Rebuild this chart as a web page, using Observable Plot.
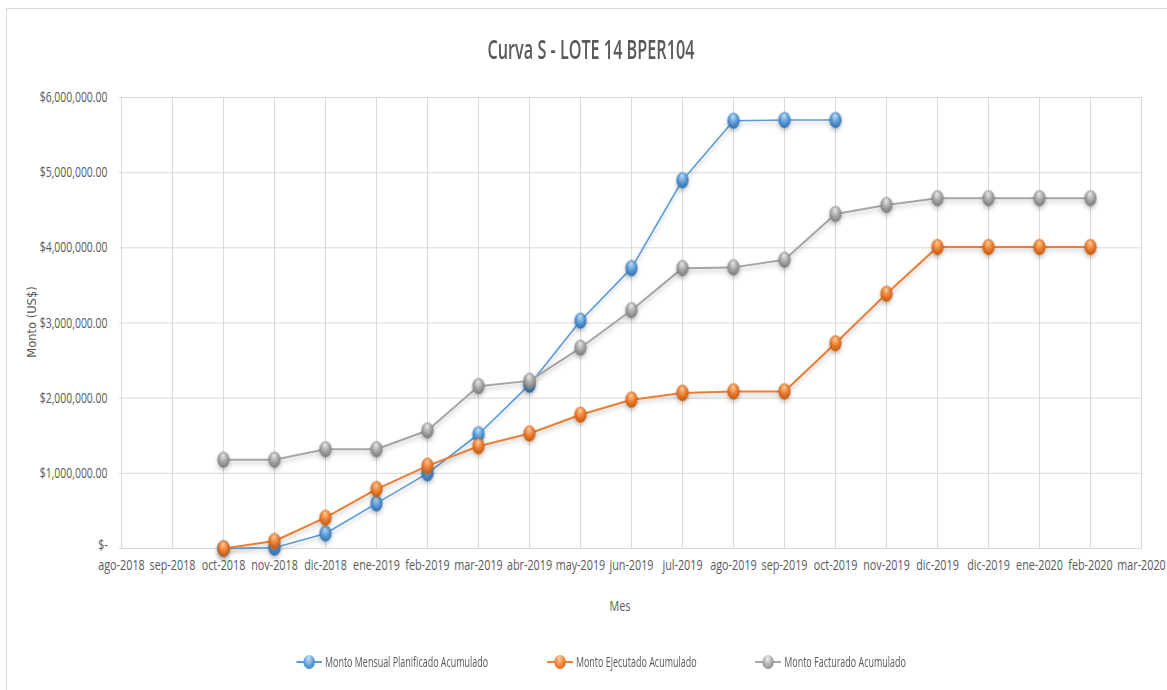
<!DOCTYPE html>
<html><head><meta charset="utf-8">
<script src="https://cdn.jsdelivr.net/npm/d3@7"></script>
<script src="https://cdn.jsdelivr.net/npm/@observablehq/plot@0.6"></script>
<style>
html,body{margin:0;padding:0;background:#fff;}
#wrap{position:relative;width:1167px;height:690px;overflow:hidden;background:#fff;}
#frame{position:absolute;left:6px;top:8px;width:1170px;height:700px;border:1px solid #d9d9d9;box-sizing:border-box;}
.txt{font-family:"Open Sans","Noto Sans",sans-serif;color:#595959;}
#title{position:absolute;left:0;width:1182px;top:30px;text-align:center;font-size:27px;font-weight:600;transform:scaleX(0.6);}
#ylab{position:absolute;left:32px;top:322px;transform:translate(-50%,-50%) rotate(-90deg);font-family:"DejaVu Sans",Verdana,sans-serif;font-size:11.5px;color:#595959;white-space:nowrap;}
#xlab{position:absolute;left:620px;top:605px;transform:translate(-50%,-50%) scaleX(0.72);font-size:15px;}
#legend{position:absolute;left:8px;width:1186px;top:652px;display:flex;justify-content:center;gap:92px;font-size:14px;transform:scaleX(0.64);}
.item{display:flex;align-items:center;gap:5px;}
.mk{position:relative;width:40px;height:14px;}
.mk .ln{position:absolute;left:0;right:0;top:6px;height:2px;}
.mk .bl{position:absolute;left:11px;top:0;width:18px;height:14px;border-radius:50%;}
svg{position:absolute;left:0;top:0;}
</style>
</head><body>
<div id="wrap">
  <div id="frame"></div>
  <div id="title" class="txt">Curva S - LOTE 14 BPER104</div>
  <div id="ylab">Monto (US$)</div>
  <div id="xlab" class="txt">Mes</div>
  <div id="legend" class="txt"></div>
</div>
<script>
// ---- data ----
const months = ["ago-2018","sep-2018","oct-2018","nov-2018","dic-2018","ene-2019","feb-2019","mar-2019","abr-2019","may-2019","jun-2019","jul-2019","ago-2019","sep-2019","oct-2019","nov-2019","dic-2019","dic-2019","ene-2020","feb-2020","mar-2020"];
const planificado = [null,null,0,10000,200000,600000,1000000,1520000,2180000,3030000,3730000,4900000,5690000,5700000,5700000,null,null,null,null,null,null];
const ejecutado   = [null,null,0,100000,410000,790000,1100000,1360000,1530000,1780000,1980000,2070000,2090000,2090000,2730000,3390000,4010000,4010000,4010000,4010000,null];
const facturado   = [null,null,1180000,1180000,1320000,1320000,1570000,2160000,2230000,2670000,3170000,3730000,3740000,3840000,4450000,4570000,4660000,4660000,4660000,4660000,null];
const seriesNames = ["Monto Mensual Planificado Acumulado","Monto Ejecutado Acumulado","Monto Facturado Acumulado"];
const yTicks = [0,1000000,2000000,3000000,4000000,5000000,6000000];

const colors = {line:["#5b9bd5","#ed7d31","#a5a5a5"], light:["#c4e2ff","#ffcf9c","#ececec"], dark:["#2a6aab","#bb560c","#767676"]};
const lineW = [1.6, 2, 2];
const ids = ["gBlue","gOrange","gGrey"];

const allSeries = [planificado, ejecutado, facturado];
const rows = allSeries.map((arr, s) => arr.map((v, i) => ({i, v, s: seriesNames[s]})).filter(d => d.v !== null));

const fmt = v => v === 0 ? "$-" : "$" + d3.format(",.2f")(v);
const idx = d3.range(months.length);

// vertical ellipse symbol (markers look taller than wide)
const ellipse = {draw(ctx, size) {
  const r = Math.sqrt(size / Math.PI), rx = r * 0.75, ry = r, k = 0.5523;
  ctx.moveTo(rx, 0);
  ctx.bezierCurveTo(rx, ry*k, rx*k, ry, 0, ry);
  ctx.bezierCurveTo(-rx*k, ry, -rx, ry*k, -rx, 0);
  ctx.bezierCurveTo(-rx, -ry*k, -rx*k, -ry, 0, -ry);
  ctx.bezierCurveTo(rx*k, -ry, rx, -ry*k, rx, 0);
  ctx.closePath();
}};

const marks = [
  Plot.gridY(yTicks, {stroke:"#d9d9d9", strokeOpacity:1, strokeWidth:1}),
  Plot.gridX(idx, {stroke:"#d9d9d9", strokeOpacity:1, strokeWidth:1}),
  Plot.axisY(yTicks, {tickSize:0, tickPadding:12, tickFormat: fmt, label:null, fill:"#595959", fontSize:14.5}),
  Plot.axisX(idx, {tickSize:0, tickPadding:11, tickFormat: i => months[i], label:null, fill:"#595959", fontSize:15})
];
rows.forEach((data, s) => {
  marks.push(Plot.line(data, {x:"i", y:"v", stroke: colors.line[s], strokeWidth: lineW[s]}));
  marks.push(Plot.dot(data, {x:"i", y:"v", r:7.8, symbol: ellipse, fill:`url(#${ids[s]})`, stroke: colors.dark[s], strokeWidth:0.4}));
});

const chart = Plot.plot({
  width:1167, height:690,
  marginTop:97, marginBottom:142, marginLeft:119, marginRight:25,
  style:{fontFamily:'"Open Sans","Noto Sans",sans-serif', fontSize:"15px", color:"#595959", background:"transparent", overflow:"visible"},
  x:{type:"point", domain: idx, padding:0},
  y:{domain:[0,6000000]},
  marks
});

const svg = d3.select(chart);
const defs = svg.insert("defs", ":first-child");
ids.forEach((id, s) => {
  const g = defs.append("radialGradient").attr("id", id).attr("cx","50%").attr("cy","42%").attr("r","62%").attr("fx","45%").attr("fy","20%");
  g.append("stop").attr("offset","0%").attr("stop-color", colors.light[s]);
  g.append("stop").attr("offset","55%").attr("stop-color", colors.line[s]);
  g.append("stop").attr("offset","100%").attr("stop-color", colors.dark[s]);
});
const f = defs.append("filter").attr("id","shadow").attr("x","-20%").attr("y","-20%").attr("width","140%").attr("height","160%");
f.append("feDropShadow").attr("dx",0).attr("dy",3).attr("stdDeviation",2).attr("flood-color","#000").attr("flood-opacity",0.22);
svg.selectAll('g[aria-label="line"], g[aria-label="dot"]').attr("filter","url(#shadow)");

// condense tick labels horizontally (narrow Calibri-like look)
svg.selectAll('g[aria-label="x-axis tick label"] text, g[aria-label="y-axis tick label"] text').each(function() {
  const t = d3.select(this);
  const lift = t.text() === "$-" ? -3 : 0;
  const tr = t.attr("transform");
  if (tr) t.attr("transform", tr + ` translate(0,${lift}) scale(0.72,1)`);
  else {
    const x = +t.attr("x") || 0, y = +t.attr("y") || 0;
    t.attr("x", null).attr("y", null).attr("transform", `translate(${x},${y + lift}) scale(0.72,1)`);
  }
});

document.getElementById("wrap").appendChild(chart);

// legend
const leg = document.getElementById("legend");
seriesNames.forEach((name, s) => {
  const it = document.createElement("div"); it.className = "item";
  it.innerHTML = `<span class="mk"><span class="ln" style="background:${colors.line[s]}"></span><span class="bl" style="background:radial-gradient(ellipse at 45% 25%, ${colors.light[s]} 0%, ${colors.line[s]} 55%, ${colors.dark[s]} 100%)"></span></span><span>${name}</span>`;
  leg.appendChild(it);
});
</script>
</body></html>
